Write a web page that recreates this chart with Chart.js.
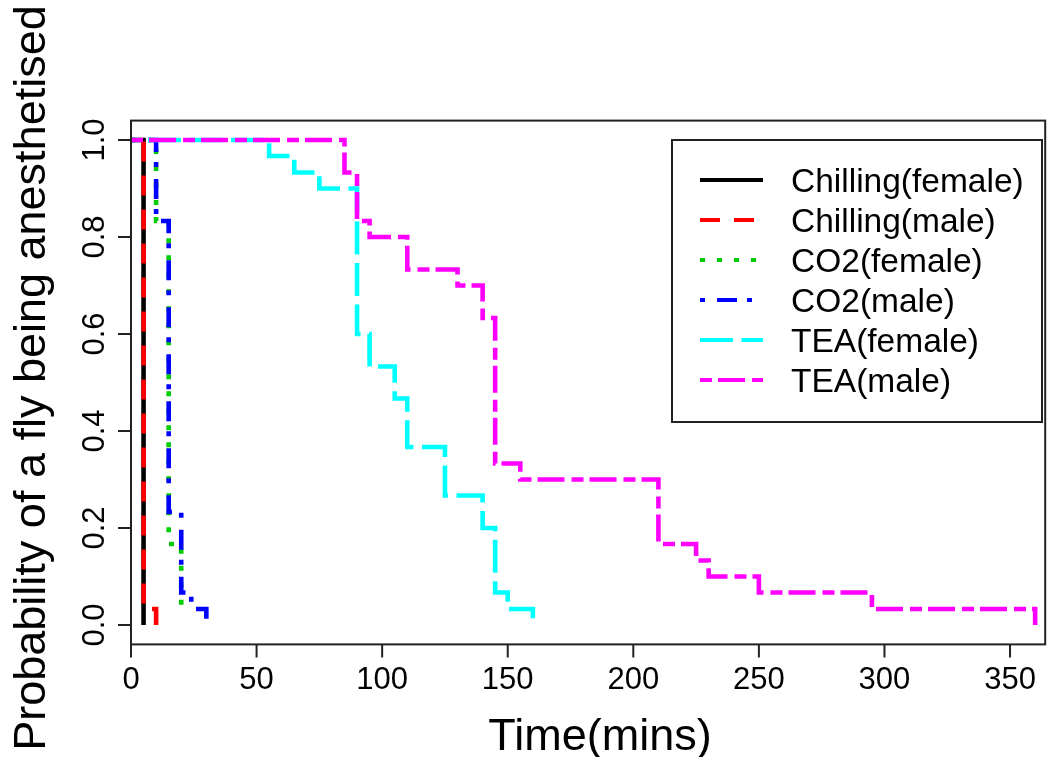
<!DOCTYPE html>
<html>
<head>
<meta charset="utf-8">
<script src="https://cdn.jsdelivr.net/npm/chart.js@4.4.1/dist/chart.umd.min.js"></script>
<style>
  html, body { margin: 0; padding: 0; background: #fff; }
  #wrap { width: 1062px; height: 757px; }
</style>
</head>
<body>
<div id="wrap"><canvas id="kmChart" width="1062" height="757"></canvas></div>
<script>
// Kaplan-Meier curves: time (mins) and probability
const chillFemaleTime = [0, 5];
const chillFemaleProb = [1, 0];

const chillMaleTime = [0, 5, 10];
const chillMaleProb = [1, 0.033, 0];

const co2FemaleTime = [0, 10, 15, 20];
const co2FemaleProb = [1, 0.833, 0.167, 0.033];

const co2MaleTime = [0, 10, 15, 20, 24, 30];
const co2MaleProb = [1, 0.833, 0.233, 0.067, 0.033, 0];

const teaFemaleTime = [0, 55, 65, 75, 90, 95, 105, 110, 125, 140, 145, 150, 160];
const teaFemaleProb = [1, 0.967, 0.933, 0.9, 0.6, 0.533, 0.467, 0.367, 0.267, 0.2, 0.067, 0.033, 0];

const teaMaleTime = [0, 85, 90, 95, 110, 130, 140, 145, 155, 210, 225, 230, 250, 295, 360];
const teaMaleProb = [1, 0.933, 0.833, 0.8, 0.733, 0.7, 0.633, 0.333, 0.3, 0.167, 0.133, 0.1, 0.067, 0.033, 0];

const seriesLabels = ['Chilling(female)', 'Chilling(male)', 'CO2(female)', 'CO2(male)', 'TEA(female)', 'TEA(male)'];

const xTicks = [0, 50, 100, 150, 200, 250, 300, 350];
const yTicks = [0, 0.2, 0.4, 0.6, 0.8, 1.0];
const yTickLabels = ['0.0', '0.2', '0.4', '0.6', '0.8', '1.0'];

const FONT = '"Liberation Sans", Arial, sans-serif';

function toPoints(times, probs) {
    return times.map((t, i) => ({ x: t, y: probs[i] }));
}

function makeSet(i, times, probs, color, dash, dashOffset) {
    return {
        label: seriesLabels[i],
        data: toPoints(times, probs),
        borderColor: color,
        backgroundColor: color,
        borderWidth: 4.6,
        borderDash: dash,
        borderDashOffset: dashOffset || 0,
        borderCapStyle: 'butt',
        stepped: true,
        pointRadius: 0,
        fill: false,
        // later series sit on top, like R draws them
        order: 6 - i
    };
}

// R-style box, axes, titles and legend
const rStylePlugin = {
    id: 'rStyle',
    afterDraw(chart) {
        const ctx = chart.ctx;
        const area = chart.chartArea;
        const xs = chart.scales.x;
        const ys = chart.scales.y;

        ctx.save();
        ctx.strokeStyle = '#222';
        ctx.fillStyle = '#000';
        ctx.lineWidth = 2;
        ctx.setLineDash([]);
        ctx.strokeRect(area.left, area.top, area.right - area.left, area.bottom - area.top);

        // x axis ticks
        ctx.beginPath();
        xTicks.forEach(v => {
            const px = xs.getPixelForValue(v);
            ctx.moveTo(px, area.bottom);
            ctx.lineTo(px, area.bottom + 13);
        });
        ctx.stroke();
        ctx.font = '31px ' + FONT;
        ctx.textAlign = 'center';
        ctx.textBaseline = 'middle';
        xTicks.forEach(v => {
            ctx.fillText(String(v), xs.getPixelForValue(v), area.bottom + 36);
        });

        // y axis ticks, labels turned like R's las=0
        ctx.beginPath();
        yTicks.forEach(v => {
            const py = ys.getPixelForValue(v);
            ctx.moveTo(area.left, py);
            ctx.lineTo(area.left - 13, py);
        });
        ctx.stroke();
        yTicks.forEach((v, i) => {
            ctx.save();
            ctx.translate(area.left - 36, ys.getPixelForValue(v));
            ctx.rotate(-Math.PI / 2);
            ctx.fillText(yTickLabels[i], 0, 0);
            ctx.restore();
        });

        // axis titles
        ctx.font = '45px ' + FONT;
        ctx.textBaseline = 'alphabetic';
        ctx.fillText('Time(mins)', 600, 750);
        ctx.save();
        ctx.translate(45, 378);
        ctx.rotate(-Math.PI / 2);
        ctx.fillText('Probability of a fly being anesthetised', 0, 0);
        ctx.restore();

        // legend
        ctx.strokeStyle = '#222';
        ctx.lineWidth = 2;
        ctx.strokeRect(672, 140, 370, 282);
        ctx.font = '33.5px ' + FONT;
        ctx.textAlign = 'left';
        chart.data.datasets.forEach((ds, i) => {
            const y = 180 + 40 * i;
            ctx.save();
            ctx.strokeStyle = ds.borderColor;
            ctx.lineWidth = 4.2;
            ctx.lineCap = 'butt';
            ctx.setLineDash(ds.borderDash);
            ctx.beginPath();
            ctx.moveTo(700, y);
            ctx.lineTo(763, y);
            ctx.stroke();
            ctx.restore();
            ctx.fillText(ds.label, 791, y + 12);
        });
        ctx.restore();
    }
};

const chartCanvas = document.getElementById('kmChart');

window.kmChart = new Chart(chartCanvas, {
    type: 'line',
    data: {
        datasets: [
            makeSet(0, chillFemaleTime, chillFemaleProb, '#000000', []),
            makeSet(1, chillMaleTime, chillMaleProb, '#FF0000', [20, 14], 20),
            makeSet(2, co2FemaleTime, co2FemaleProb, '#00CD00', [5, 12]),
            makeSet(3, co2MaleTime, co2MaleProb, '#0000FF', [5, 12, 20, 10]),
            makeSet(4, teaFemaleTime, teaFemaleProb, '#00FFFF', [33, 8.5], 24.5),
            makeSet(5, teaMaleTime, teaMaleProb, '#FF00FF', [12, 6, 27, 7])
        ]
    },
    options: {
        responsive: false,
        animation: false,
        devicePixelRatio: 1,
        layout: {
            padding: { left: 131, right: 16.8, top: 120.6, bottom: 112.6 }
        },
        scales: {
            x: { type: 'linear', min: 0, max: 364, display: false },
            y: { type: 'linear', min: -0.04, max: 1.04, display: false }
        },
        plugins: {
            legend: { display: false },
            tooltip: { enabled: false }
        }
    },
    plugins: [rStylePlugin]
});
</script>
</body>
</html>
